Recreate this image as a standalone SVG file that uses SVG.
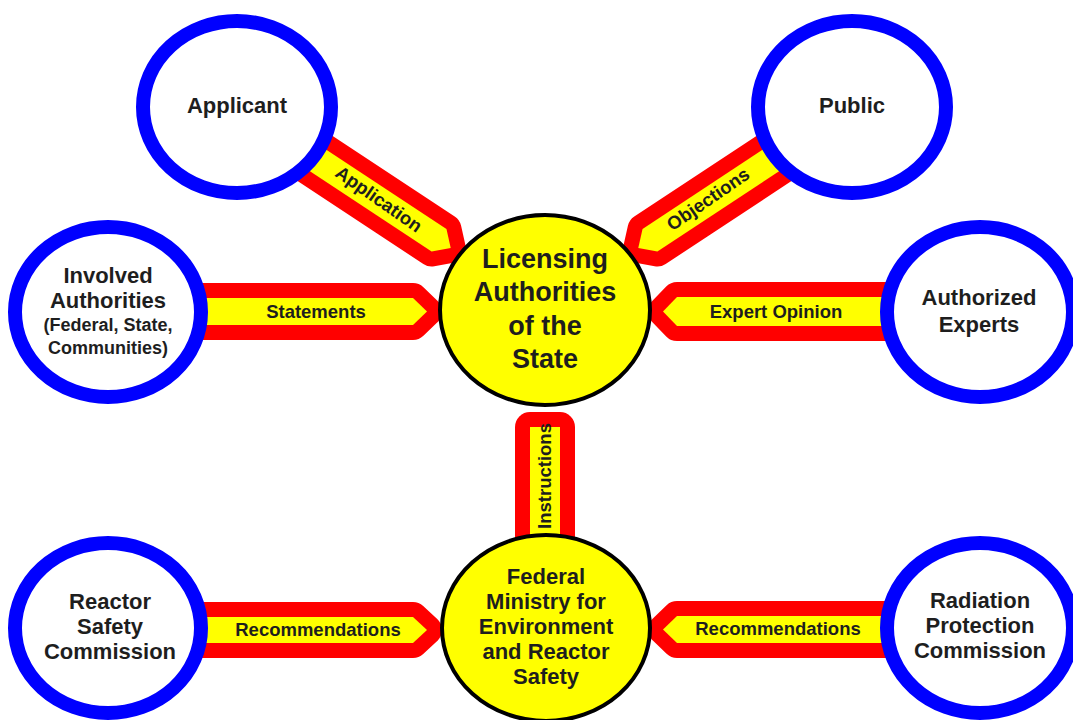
<svg xmlns="http://www.w3.org/2000/svg" width="1073" height="720" viewBox="0 0 1073 720">
<style>
.band{fill:#ff0000;stroke:#ff0000;stroke-width:30;stroke-linejoin:round}
.inner{fill:#ffff00;stroke:none}
.outer{fill:#ffffff;stroke:#0000ff;stroke-width:14}
.hub{fill:#ffff00;stroke:#000000;stroke-width:4}
text{font-family:"Liberation Sans",Arial,Helvetica,sans-serif;font-weight:bold;text-anchor:middle;fill:#1e1e1e}
.lbl{font-size:18.5px}
.nt{font-size:22px}
.st{font-size:18px}
.ht{font-size:27px}
</style>
<rect width="1073" height="720" fill="#ffffff"/>
<g id="connectors">
  <g id="c-application">
    <g transform="translate(237,107) rotate(33.4)">
      <path class="band" d="M50,-13.5 H242 L256,0 L242,13.5 H50 Z"/>
      <path class="inner" d="M50,-13.5 H242 L256,0 L242,13.5 H50 Z"/>
    </g>
    <text class="lbl" transform="translate(379,199) rotate(35)" y="6.5">Application</text>
  </g>
  <g id="c-objections">
    <g transform="translate(852,107) rotate(146.6)">
      <path class="band" d="M50,-13.5 H242 L256,0 L242,13.5 H50 Z"/>
      <path class="inner" d="M50,-13.5 H242 L256,0 L242,13.5 H50 Z"/>
    </g>
    <text class="lbl" transform="translate(708,199) rotate(-34.5)" y="6.5">Objections</text>
  </g>
  <g id="c-statements">
    <path class="band" d="M150,298 H413 L427,311.5 L413,325 H150 Z"/>
    <path class="inner" d="M150,298 H413 L427,311.5 L413,325 H150 Z"/>
    <text class="lbl" x="316" y="317.5">Statements</text>
  </g>
  <g id="c-expert">
    <path class="band" d="M940,297 H677 L663,311.5 L677,326 H940 Z"/>
    <path class="inner" d="M940,297 H677 L663,311.5 L677,326 H940 Z"/>
    <text class="lbl" x="776" y="317.5">Expert Opinion</text>
  </g>
  <g id="c-instructions">
    <path class="band" d="M530,427 H560 V560 H530 Z"/>
    <path class="inner" d="M530,427 H560 V560 H530 Z"/>
    <text class="lbl" transform="translate(551,476) rotate(-90)">Instructions</text>
  </g>
  <g id="c-rec-left">
    <path class="band" d="M150,617 H413 L427,630 L413,643 H150 Z"/>
    <path class="inner" d="M150,617 H413 L427,630 L413,643 H150 Z"/>
    <text class="lbl" x="318" y="636">Recommendations</text>
  </g>
  <g id="c-rec-right">
    <path class="band" d="M940,616 H677 L663,629.5 L677,643 H940 Z"/>
    <path class="inner" d="M940,616 H677 L663,629.5 L677,643 H940 Z"/>
    <text class="lbl" x="778" y="635">Recommendations</text>
  </g>
</g>
<g id="applicant">
  <ellipse class="outer" cx="237" cy="107" rx="94" ry="86"/>
  <text class="nt" x="237" y="113">Applicant</text>
</g>
<g id="public">
  <ellipse class="outer" cx="852" cy="107" rx="94" ry="86"/>
  <text class="nt" x="852" y="113">Public</text>
</g>
<g id="involved">
  <ellipse class="outer" cx="108" cy="312" rx="93" ry="85"/>
  <text class="nt" x="108" y="283">Involved</text>
  <text class="nt" x="108" y="308">Authorities</text>
  <text class="st" x="108" y="331">(Federal, State,</text>
  <text class="st" x="108" y="354">Communities)</text>
</g>
<g id="experts">
  <ellipse class="outer" cx="980" cy="312" rx="93" ry="85"/>
  <text class="nt" x="979" y="305">Authorized</text>
  <text class="nt" x="979" y="332">Experts</text>
</g>
<g id="reactor">
  <ellipse class="outer" cx="108" cy="628" rx="93" ry="85"/>
  <text class="nt" x="110" y="609">Reactor</text>
  <text class="nt" x="110" y="634">Safety</text>
  <text class="nt" x="110" y="659">Commission</text>
</g>
<g id="radiation">
  <ellipse class="outer" cx="980" cy="628" rx="93" ry="85"/>
  <text class="nt" x="980" y="608">Radiation</text>
  <text class="nt" x="980" y="633">Protection</text>
  <text class="nt" x="980" y="658">Commission</text>
</g>
<g id="licensing">
  <ellipse class="hub" cx="545" cy="310" rx="105" ry="95"/>
  <text class="ht" x="545" y="268">Licensing</text>
  <text class="ht" x="545" y="301">Authorities</text>
  <text class="ht" x="545" y="335">of the</text>
  <text class="ht" x="545" y="368">State</text>
</g>
<g id="ministry">
  <ellipse class="hub" cx="546" cy="628" rx="104" ry="93"/>
  <text class="nt" x="546" y="584">Federal</text>
  <text class="nt" x="546" y="609">Ministry for</text>
  <text class="nt" x="546" y="634">Environment</text>
  <text class="nt" x="546" y="659">and Reactor</text>
  <text class="nt" x="546" y="684">Safety</text>
</g>
</svg>
